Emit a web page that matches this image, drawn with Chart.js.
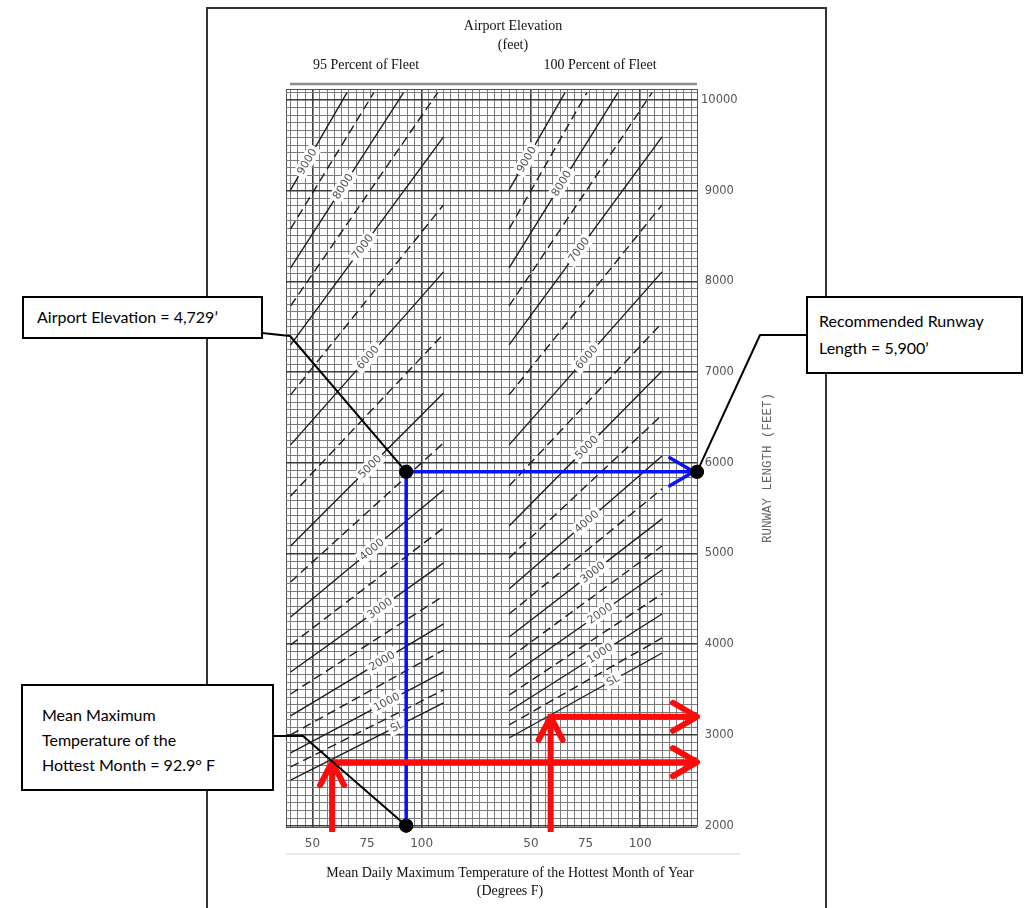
<!DOCTYPE html>
<html>
<head>
<meta charset="utf-8">
<script src="https://cdn.jsdelivr.net/npm/chart.js@4.4.0/dist/chart.umd.min.js"></script>
<style>
  html, body { margin: 0; padding: 0; background: #fff; }
  #wrap { position: relative; width: 1036px; height: 908px; overflow: hidden; }
  #runwayChart { position: absolute; left: 0; top: 0; }
  .callout { position: absolute; box-sizing: border-box; background: #fff; border: 2px solid #000;
             font-family: Lato, "Open Sans", sans-serif; font-size: 16px; color: #000; white-space: nowrap; }
</style>
</head>
<body>
<div id="wrap">
  <canvas id="runwayChart" width="1036" height="908"></canvas>
  <div class="callout" style="left:22px;top:296px;width:241px;height:43px;padding:9px 0 0 13px;">Airport Elevation = 4,729’</div>
  <div class="callout" style="left:806px;top:296px;width:217px;height:78px;padding:9px 0 0 11px;line-height:27px;">Recommended Runway<br>Length = 5,900’</div>
  <div class="callout" style="left:21px;top:684px;width:253px;height:107px;padding:16px 0 0 19px;line-height:25px;">Mean Maximum<br>Temperature of the<br>Hottest Month = 92.9° F</div>
</div>
<script>
// elevation lines (feet), solid at thousands, dashed at the 500s
const elevations = [0, 500, 1000, 1500, 2000, 2500, 3000, 3500, 4000, 4500, 5000, 5500, 6000, 6500, 7000, 7500, 8000, 8500, 9000];
const elevationLabels = ["SL", "", "1000", "", "2000", "", "3000", "", "4000", "", "5000", "", "6000", "", "7000", "", "8000", "", "9000"];

// 95 percent of fleet: each line goes from (startTemp, startLen) to (endTemp, endLen)
const startTemp95 = [40, 40, 40, 40, 40, 40, 40, 40, 40, 40, 40, 40, 40, 40, 40, 40, 40, 40, 40];
const startLen95 = [2503, 2647, 2801, 3001, 3209, 3451, 3694, 3992, 4300, 4686, 5083, 5634, 6197, 6748, 7299, 7729, 8148, 8578, 9008];
const endTemp95 = [110, 110, 110, 110, 110, 110, 110, 110, 110, 110, 110, 110, 110, 110, 110, 107.3, 91.7, 78.1, 65.8];
const endLen95 = [3352, 3495, 3694, 3936, 4223, 4532, 4896, 5281, 5700, 6219, 6770, 7420, 8104, 8843, 9592, 10080, 10080, 10080, 10080];
const labelTemp95 = [88.7, null, 84, null, 81.8, null, 80.9, null, 77.2, null, 76.3, null, 75.4, null, 73, null, 64, null, 47.5];

// 100 percent of fleet
const startTemp100 = [40, 40, 40, 40, 40, 40, 40, 40, 40, 40, 40, 40, 40, 40, 40, 40, 40, 40, 40];
const startLen100 = [2966, 3110, 3264, 3440, 3639, 3848, 4080, 4333, 4609, 4951, 5303, 5745, 6197, 6748, 7299, 7729, 8148, 8578, 9008];
const endTemp100 = [110, 110, 110, 110, 110, 110, 110, 110, 110, 110, 110, 110, 110, 110, 110, 105.4, 89.8, 75.6, 65.6];
const endLen100 = [3903, 4069, 4333, 4554, 4818, 5083, 5381, 5712, 6075, 6527, 7012, 7542, 8104, 8843, 9592, 10080, 10080, 10080, 10080];
const labelTemp100 = [87.6, null, 81.6, null, 81.6, null, 78.3, null, 75.5, null, 75.5, null, 75.5, null, 72, null, 64, null, 48];

// axis labels
const runwayTicks = [2000, 3000, 4000, 5000, 6000, 7000, 8000, 9000, 10000];
const tempTicks = [50, 75, 100];

// worked example
const designTemp = 92.9;
const designRunway = 5900;
const standardTemp = 59;
const slRunway95 = 2700;
const slRunway100 = 3200;

// the 100 percent panel sits 100 units to the right on the shared x scale
const panelShift = 100;
const xMin = 37.9, xMax = 226, yMin = 1985, yMax = 10120;

const panels = [
  { shift: 0, t0: startTemp95, l0: startLen95, t1: endTemp95, l1: endLen95, lab: labelTemp95 },
  { shift: panelShift, t0: startTemp100, l0: startLen100, t1: endTemp100, l1: endLen100, lab: labelTemp100 }
];

const datasets = [];
panels.forEach(p => {
  elevations.forEach((e, i) => {
    datasets.push({
      data: [{ x: p.t0[i] + p.shift, y: p.l0[i] }, { x: p.t1[i] + p.shift, y: p.l1[i] }],
      borderColor: '#1e1e1e',
      borderWidth: 1.4,
      borderDash: e % 1000 ? [9, 5] : [],
      pointRadius: 0,
      order: 1
    });
  });
});

const red = '#ff0a0a', blue = '#0a14f0';
const highlight = [
  { data: [{ x: standardTemp, y: 1930 }, { x: standardTemp, y: slRunway95 }, { x: xMax, y: slRunway95 }], borderColor: red, borderWidth: 6 },
  { data: [{ x: standardTemp + panelShift, y: 1930 }, { x: standardTemp + panelShift, y: slRunway100 }, { x: xMax, y: slRunway100 }], borderColor: red, borderWidth: 6 },
  { data: [{ x: designTemp, y: 2000 }, { x: designTemp, y: designRunway }, { x: xMax - 1, y: designRunway }], borderColor: blue, borderWidth: 3.5 }
];
highlight.forEach(h => datasets.push(Object.assign({ pointRadius: 0, clip: false, order: 0, borderJoinStyle: 'miter' }, h)));
datasets.push({
  data: [{ x: designTemp, y: 2000 }, { x: designTemp, y: designRunway }, { x: xMax, y: designRunway }],
  showLine: false, pointRadius: 7, pointBackgroundColor: '#000', pointBorderWidth: 0, clip: false, order: 0
});

// arrow heads: tip value and direction
const arrows = [
  { x: standardTemp, y: slRunway95, dir: 'up', color: red, w: 6 },
  { x: xMax, y: slRunway95, dir: 'right', color: red, w: 6 },
  { x: standardTemp + panelShift, y: slRunway100, dir: 'up', color: red, w: 6 },
  { x: xMax, y: slRunway100, dir: 'right', color: red, w: 6 },
  { x: xMax - 1.5, y: designRunway, dir: 'right', color: blue, w: 3.5 }
];

// fine graph-paper grid
function xGrid() {
  const t = [{ value: xMin, kind: 'edge' }, { value: xMax, kind: 'edge' }];
  for (let k = -4; k <= 60; k++) {
    const v = Math.round((50 + k * 10 / 3) * 1000) / 1000;
    if (v <= xMin || v >= xMax) continue;
    const thick = [50, 100, 150, 200].includes(v);
    t.push({ value: v, kind: thick ? 'thick' : 'fine' });
  }
  tempTicks.forEach(v => {
    [v, v + panelShift].forEach(val => { if (!t.some(o => o.value === val)) t.push({ value: val, kind: 'label' }); });
  });
  return t.sort((a, b) => a.value - b.value);
}
function yGrid() {
  const t = [{ value: yMin, kind: 'edge' }, { value: yMax, kind: 'edge' }];
  for (let k = 0; k <= 97; k++) {
    const v = Math.round((2000 + k * 1000 / 12) * 100) / 100;
    if (v >= yMax) continue;
    t.push({ value: v, kind: k % 12 === 0 ? 'thick' : 'fine' });
  }
  return t.sort((a, b) => a.value - b.value);
}
const gridColor = ctx => {
  const k = ctx.tick && ctx.tick.kind;
  if (k === 'label') return 'rgba(0,0,0,0)';
  if (k === 'thick') return '#3c3c3c';
  return k === 'edge' ? '#555' : '#7d7d7d';
};
const gridWidth = ctx => (ctx.tick && ctx.tick.kind === 'thick' ? 1.6 : 1);

const decor = {
  id: 'decor',
  beforeDraw(chart) {
    const c = chart.ctx;
    c.save();
    c.fillStyle = '#fff';
    c.fillRect(0, 0, chart.width, chart.height);
    c.strokeStyle = '#333';
    c.lineWidth = 2;
    c.strokeRect(207, 8, 619, 940);
    c.strokeStyle = '#8c8c8c';
    c.lineWidth = 2.5;
    c.beginPath(); c.moveTo(290, 84); c.lineTo(chart.chartArea.right, 84); c.stroke();
    c.strokeStyle = '#e2e2e2';
    c.lineWidth = 1.5;
    c.beginPath(); c.moveTo(chart.chartArea.left, 854); c.lineTo(740, 854); c.stroke();

    c.fillStyle = '#111';
    c.textAlign = 'center';
    c.textBaseline = 'middle';
    c.font = '14px "Liberation Serif"';
    c.fillText('Airport Elevation', 513, 26);
    c.fillText('(feet)', 513, 45);
    c.fillText('95 Percent of Fleet', 366, 65);
    c.fillText('100 Percent of Fleet', 600, 65);
    c.fillText('Mean Daily Maximum Temperature of the Hottest Month of Year', 510, 873);
    c.fillText('(Degrees F)', 510, 891);

    c.translate(768, 468);
    c.rotate(-Math.PI / 2);
    c.fillStyle = '#666';
    c.font = '12.5px "Liberation Mono"';
    c.fillText('RUNWAY LENGTH (FEET)', 0, 0);
    c.restore();
  },
  afterDatasetDraw(chart, args) {
    if (args.index !== 0) return;
    // labels written along the elevation lines
    const xs = chart.scales.x, ys = chart.scales.y, c = chart.ctx;
    c.save();
    c.font = '11px "DejaVu Sans"';
    c.textAlign = 'center';
    c.textBaseline = 'middle';
    panels.forEach(p => {
      elevations.forEach((e, i) => {
        const lab = elevationLabels[i], t = p.lab[i];
        if (!lab || t == null) return;
        const x0 = xs.getPixelForValue(p.t0[i] + p.shift), y0 = ys.getPixelForValue(p.l0[i]);
        const x1 = xs.getPixelForValue(p.t1[i] + p.shift), y1 = ys.getPixelForValue(p.l1[i]);
        const px = xs.getPixelForValue(t + p.shift);
        const py = y0 + (px - x0) / (x1 - x0) * (y1 - y0);
        c.save();
        c.translate(px, py);
        c.rotate(Math.atan2(y1 - y0, x1 - x0));
        const w = c.measureText(lab).width + 6;
        c.fillStyle = '#fff';
        c.fillRect(-w / 2, -7, w, 14);
        c.fillStyle = '#555';
        c.fillText(lab, 0, 0.5);
        c.restore();
      });
    });
    c.restore();
  },
  afterDatasetsDraw(chart) {
    const xs = chart.scales.x, ys = chart.scales.y, c = chart.ctx;
    c.save();
    c.lineCap = 'round';
    c.lineJoin = 'round';
    arrows.forEach(a => {
      const x = xs.getPixelForValue(a.x), y = ys.getPixelForValue(a.y);
      const back = a.dir === 'right' ? 24 : 23, half = a.dir === 'right' ? 14 : 12;
      c.strokeStyle = a.color;
      c.lineWidth = a.w;
      c.beginPath();
      if (a.dir === 'right') {
        c.moveTo(x - back, y - half); c.lineTo(x, y); c.lineTo(x - back, y + half);
      } else {
        c.moveTo(x - half, y + back); c.lineTo(x, y); c.lineTo(x + half, y + back);
      }
      c.stroke();
    });
    // leader lines from the callout boxes
    const dx = xs.getPixelForValue(designTemp);
    const dy = ys.getPixelForValue(designRunway);
    const by = ys.getPixelForValue(2000);
    const rx = xs.getPixelForValue(xMax);
    c.strokeStyle = '#000';
    c.lineWidth = 2;
    c.lineCap = 'butt';
    c.beginPath();
    c.moveTo(262, 333); c.lineTo(290, 336); c.lineTo(dx, dy);
    c.moveTo(273, 736); c.lineTo(303, 736); c.lineTo(dx, by);
    c.moveTo(rx, dy); c.lineTo(760, 335); c.lineTo(806, 335);
    c.stroke();
    // the dots sit above the leaders
    c.fillStyle = '#000';
    [[dx, dy], [dx, by], [rx, dy]].forEach(([x, y]) => { c.beginPath(); c.arc(x, y, 7, 0, Math.PI * 2); c.fill(); });
    c.restore();
  }
};

new Chart(document.getElementById('runwayChart'), {
  type: 'line',
  data: { datasets },
  plugins: [decor],
  options: {
    responsive: false,
    animation: false,
    devicePixelRatio: 1,
    events: [],
    layout: { padding: { left: 286, top: 89, right: 1036 - 697 - 60, bottom: 0 } },
    plugins: { legend: { display: false }, tooltip: { enabled: false } },
    elements: { line: { tension: 0, fill: false } },
    scales: {
      x: {
        type: 'linear', min: xMin, max: xMax,
        afterBuildTicks: s => { s.ticks = xGrid(); },
        afterFit: s => { s.height = 81; },
        border: { display: false },
        grid: { drawTicks: false, color: gridColor, lineWidth: gridWidth },
        ticks: {
          autoSkip: false, maxRotation: 0, padding: 10, color: '#555',
          font: { family: 'DejaVu Sans', size: 12 },
          callback: v => {
            const t = v >= 140 ? Math.round(v - panelShift) : Math.round(v);
            return tempTicks.includes(t) && Math.abs(v - Math.round(v)) < 1e-6 ? String(t) : '';
          }
        }
      },
      y: {
        type: 'linear', position: 'right', min: yMin, max: yMax,
        afterBuildTicks: s => { s.ticks = yGrid(); },
        afterFit: s => { s.width = 60; },
        border: { display: false },
        grid: { drawTicks: false, color: gridColor, lineWidth: gridWidth },
        ticks: {
          autoSkip: false, padding: 4, crossAlign: 'center', color: '#555',
          font: { family: 'DejaVu Sans', size: 11.5 },
          callback: v => (runwayTicks.includes(v) ? String(v) : '')
        }
      }
    }
  }
});
</script>
</body>
</html>
